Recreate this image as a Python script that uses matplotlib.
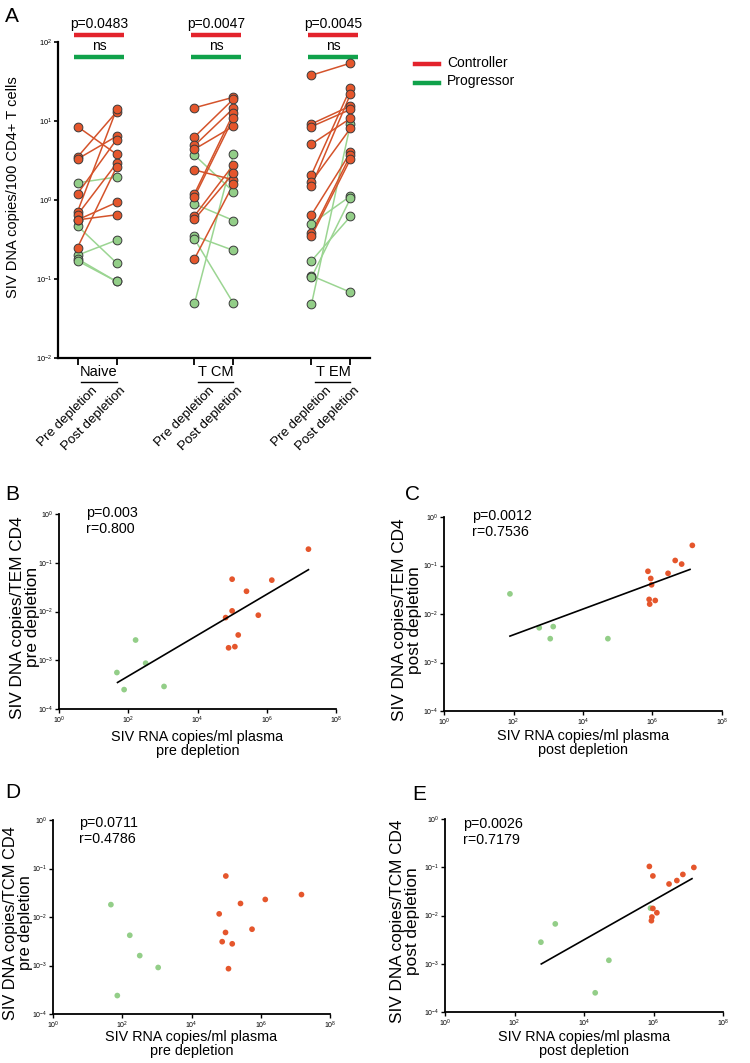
"""
SIV DNA in CD4 T cell subsets, pre/post depletion (panel A) and
correlation with plasma viral RNA (panels B-E)
"""

import numpy as np
import matplotlib

matplotlib.use("Agg")
import matplotlib.pyplot as plt
from matplotlib import ticker

plt.rcParams["font.family"] = ["Liberation Sans", "DejaVu Sans"]

# ---------------- panel A data ----------------
subsets = ["Naive", "T CM", "T EM"]
time_labels = ["Pre depletion", "Post depletion"]
p_controller = ["p=0.0483", "p=0.0047", "p=0.0045"]
p_progressor = ["ns", "ns", "ns"]

# controller (pre, post) pairs per subset
naive_ctrl_pre = [8.5, 3.5, 3.3, 1.2, 0.71, 0.65, 0.56, 0.56, 0.25]
naive_ctrl_post = [3.8, 13, 6.4, 5.8, 14, 2.9, 0.93, 0.65, 2.6]
naive_prog_pre = [1.65, 0.47, 0.20, 0.18, 0.17]
naive_prog_post = [1.95, 0.16, 0.31, 0.093, 0.093]

tcm_ctrl_pre = [14.7, 6.3, 4.9, 4.4, 2.4, 1.2, 1.1, 0.63, 0.57, 0.18]
tcm_ctrl_post = [20, 19, 14.5, 8.6, 1.8, 12.5, 11, 2.8, 2.2, 1.6]
tcm_prog_pre = [3.7, 0.89, 0.35, 0.32, 0.049]
tcm_prog_post = [1.27, 0.55, 0.23, 0.049, 3.8]

tem_ctrl_pre = [38, 9.2, 8.5, 5.1, 2.1, 1.7, 1.5, 0.65, 0.38, 0.35]
tem_ctrl_post = [54, 15.5, 14, 10.8, 26, 8.1, 22, 4.0, 3.7, 3.3]
tem_prog_pre = [0.50, 0.17, 0.11, 0.105, 0.048]
tem_prog_post = [1.12, 0.62, 0.068, 1.05, 9.2]

# ---------------- panels B-E data ----------------
# B: TEM pre depletion
b_ctrl_rna = [1.6e7, 1.0e5, 1.4e6, 2.6e5, 1.0e5, 6.5e4, 5.7e5, 1.5e5, 1.2e5, 7.9e4]
b_ctrl_dna = [0.19, 0.046, 0.044, 0.026, 0.0103, 0.0075, 0.0084, 0.0033, 0.0019, 0.0018]
b_prog_rna = [163, 318, 47, 76, 1080]
b_prog_dna = [0.0026, 0.00087, 0.00056, 0.00025, 0.00029]
b_fit_x = [49, 1.6e7]
b_fit_y = [3.5e-4, 0.072]

# C: TEM post depletion
c_ctrl_rna = [1.4e7, 4.5e6, 6.9e6, 7.4e5, 2.8e6, 8.9e5, 9.4e5, 8.0e5, 1.2e6, 8.3e5]
c_ctrl_dna = [0.26, 0.127, 0.107, 0.076, 0.069, 0.054, 0.040, 0.020, 0.019, 0.016]
c_prog_rna = [79, 550, 1390, 1140, 5.2e4]
c_prog_dna = [0.026, 0.0052, 0.0055, 0.0031, 0.0031]
c_fit_x = [79, 1.2e7]
c_fit_y = [0.0035, 0.083]

# D: TCM pre depletion (no fit line)
d_ctrl_rna = [9.8e4, 1.5e7, 1.35e6, 2.6e5, 6.3e4, 5.6e5, 9.6e4, 7.7e4, 1.5e5, 1.17e5]
d_ctrl_dna = [0.070, 0.029, 0.023, 0.019, 0.0116, 0.0056, 0.0048, 0.0031, 0.0028, 0.00086]
d_prog_rna = [47, 165, 320, 1090, 72]
d_prog_dna = [0.018, 0.0042, 0.0016, 0.00091, 0.00024]

# E: TCM post depletion
e_ctrl_rna = [7.6e5, 9.6e5, 1.45e7, 7.0e6, 4.7e6, 2.8e6, 9.6e5, 1.25e6, 9.0e5, 8.7e5]
e_ctrl_dna = [0.104, 0.066, 0.099, 0.071, 0.053, 0.045, 0.014, 0.0114, 0.0093, 0.0078]
e_prog_rna = [8.2e5, 1490, 575, 5.2e4, 2.1e4]
e_prog_dna = [0.0142, 0.0067, 0.0028, 0.00118, 0.00025]
e_fit_x = [590, 1.28e7]
e_fit_y = [0.00099, 0.058]

# ---------------- colours ----------------
RED_FACE = "#E5562C"
GREEN_FACE = "#93CE88"
RED_LINE = "#D4532B"
GREEN_LINE = "#9BD592"
BAR_RED = "#E3232C"
BAR_GREEN = "#10A24B"

fig = plt.figure(figsize=(7.5, 10.63), dpi=100)
W, H = 750, 1063


def px_axes(left, top, right, bottom):
    return fig.add_axes([left / W, 1 - bottom / H, (right - left) / W, (bottom - top) / H])


def log_ticks(ax, axis, fs):
    fmt = ticker.LogFormatterSciNotation()
    if axis in ("y", "both"):
        ax.yaxis.set_major_locator(ticker.LogLocator(base=10, numticks=20))
        ax.yaxis.set_minor_locator(ticker.NullLocator())
        ax.yaxis.set_major_formatter(fmt)
    ax.tick_params(axis=axis, labelsize=fs, direction="out", length=3, width=1.0, pad=1)


# ================= panel A =================
axA = px_axes(58, 42, 370, 358)
axA.set_yscale("log")
axA.set_ylim(1e-2, 1e2)
axA.set_xlim(-0.5, 7.5)
for s in ["top", "right"]:
    axA.spines[s].set_visible(False)
for s in ["left", "bottom"]:
    axA.spines[s].set_linewidth(1.6)

group_pos = [0, 3, 6]
ctrl_sets = [(naive_ctrl_pre, naive_ctrl_post), (tcm_ctrl_pre, tcm_ctrl_post), (tem_ctrl_pre, tem_ctrl_post)]
prog_sets = [(naive_prog_pre, naive_prog_post), (tcm_prog_pre, tcm_prog_post), (tem_prog_pre, tem_prog_post)]

for gx, (cp, cq), (pp, pq) in zip(group_pos, ctrl_sets, prog_sets):
    for a, b in zip(pp, pq):
        axA.plot([gx, gx + 1], [a, b], color=GREEN_LINE, lw=1.1, zorder=2)
    for a, b in zip(cp, cq):
        axA.plot([gx, gx + 1], [a, b], color=RED_LINE, lw=1.1, zorder=3)
    for a, b in zip(pp, pq):
        axA.plot([gx, gx + 1], [a, b], ls="none", marker="o", ms=6.3,
                 mfc=GREEN_FACE, mec="#3a3a3a", mew=0.7, zorder=4)
    for a, b in zip(cp, cq):
        axA.plot([gx, gx + 1], [a, b], ls="none", marker="o", ms=6.3,
                 mfc=RED_FACE, mec="#3a3a3a", mew=0.7, zorder=5)

# significance bars
for gx, pc, pg in zip(group_pos, p_controller, p_progressor):
    axA.plot([gx - 0.08, gx + 1.18], [123, 123], color=BAR_RED, lw=3.2,
             solid_capstyle="butt", clip_on=False)
    axA.plot([gx - 0.08, gx + 1.18], [65, 65], color=BAR_GREEN, lw=3.2,
             solid_capstyle="butt", clip_on=False)
    axA.text(gx + 0.55, 170, pc, ha="center", va="center", fontsize=10, clip_on=False)
    axA.text(gx + 0.55, 90, pg, ha="center", va="center", fontsize=10, clip_on=False)

xt = []
for gx in group_pos:
    xt += [gx, gx + 1]
axA.set_xticks(xt)
axA.set_xticklabels([])
axA.tick_params(axis="x", direction="out", length=5, width=1.3)
log_ticks(axA, "y", 5.5)
axA.tick_params(axis="y", length=3, width=1.2)

trans = axA.get_xaxis_transform()
for gx, name in zip(group_pos, subsets):
    axA.text(gx + 0.55, -0.043, name, transform=trans, ha="center", va="center", fontsize=10.5)
    axA.plot([gx + 0.08, gx + 1.0], [-0.076, -0.076], transform=trans, color="black",
             lw=1.0, clip_on=False)
    axA.text(gx + 0.36, -0.083, time_labels[0], transform=trans, rotation=45,
             ha="right", va="top", rotation_mode="anchor", fontsize=9.6)
    axA.text(gx + 1.08, -0.083, time_labels[1], transform=trans, rotation=45,
             ha="right", va="top", rotation_mode="anchor", fontsize=9.6)

axA.set_ylabel("SIV DNA copies/100 CD4+ T cells", fontsize=10.5)
axA.yaxis.set_label_coords(-0.122, 0.54)
fig.text(5 / W, 1 - 16 / H, "A", fontsize=15, va="center", ha="left")

# legend
fig.add_artist(plt.Line2D([415 / W, 439 / W], [1 - 64 / H, 1 - 64 / H], color=BAR_RED, lw=3.2))
fig.add_artist(plt.Line2D([415 / W, 439 / W], [1 - 83 / H, 1 - 83 / H], color=BAR_GREEN, lw=3.2))
fig.text(447 / W, 1 - 63 / H, "Controller", fontsize=10, va="center")
fig.text(447 / W, 1 - 81 / H, "Progressor", fontsize=10, va="center")


# ================= scatter panels =================
def scatter_panel(box, letter, letter_xy, ctrl, prog, fit, ptxt, ylab, xlab, txt_xy,
                  ylab_x, xlab_y, ylab_fs=12.4):
    ax = px_axes(*box)
    ax.set_xscale("log")
    ax.set_yscale("log")
    ax.set_xlim(1, 1e8)
    ax.set_ylim(1e-4, 1)
    for s in ["top", "right"]:
        ax.spines[s].set_visible(False)
    for s in ["left", "bottom"]:
        ax.spines[s].set_linewidth(1.3)
    ax.scatter(prog[0], prog[1], s=17, color=GREEN_FACE, edgecolors="none", zorder=3)
    ax.scatter(ctrl[0], ctrl[1], s=17, color=RED_FACE, edgecolors="none", zorder=3)
    if fit is not None:
        ax.plot(fit[0], fit[1], color="black", lw=1.2, zorder=4)
    ax.xaxis.set_major_locator(ticker.FixedLocator([1, 1e2, 1e4, 1e6, 1e8]))
    ax.xaxis.set_minor_locator(ticker.NullLocator())
    ax.xaxis.set_major_formatter(ticker.LogFormatterSciNotation())
    log_ticks(ax, "both", 5)
    ax.text(txt_xy[0], txt_xy[1], ptxt, transform=ax.transAxes, ha="left", va="top",
            fontsize=10.3, linespacing=1.2)
    ax.set_ylabel(ylab, fontsize=ylab_fs, linespacing=1.0)
    ax.yaxis.set_label_coords(ylab_x, 0.47)
    ax.set_xlabel(xlab, fontsize=10.4, linespacing=1.0)
    ax.xaxis.set_label_coords(0.5, xlab_y)
    fig.text(letter_xy[0] / W, 1 - letter_xy[1] / H, letter, fontsize=15, va="center", ha="left")
    return ax


scatter_panels = [
    ((59, 514, 336, 709), "B", (5, 495), (b_ctrl_rna, b_ctrl_dna), (b_prog_rna, b_prog_dna),
     (b_fit_x, b_fit_y), "p=0.003\nr=0.800",
     "SIV DNA copies/TEM CD4\npre depletion", "SIV RNA copies/ml plasma\npre depletion",
     (0.097, 1.04), -0.069, -0.108),
    ((444, 517, 722, 711), "C", (405, 495), (c_ctrl_rna, c_ctrl_dna), (c_prog_rna, c_prog_dna),
     (c_fit_x, c_fit_y), "p=0.0012\nr=0.7536",
     "SIV DNA copies/TEM CD4\npost depletion", "SIV RNA copies/ml plasma\npost depletion",
     (0.10, 1.04), -0.079, -0.093),
    ((53, 820, 330, 1014), "D", (5, 793), (d_ctrl_rna, d_ctrl_dna), (d_prog_rna, d_prog_dna),
     None, "p=0.0711\nr=0.4786",
     "SIV DNA copies/TCM CD4\npre depletion", "SIV RNA copies/ml plasma\npre depletion",
     (0.094, 1.02), -0.074, -0.082, 11.8),
    ((445, 819, 723, 1012), "E", (412, 795), (e_ctrl_rna, e_ctrl_dna), (e_prog_rna, e_prog_dna),
     (e_fit_x, e_fit_y), "p=0.0026\nr=0.7179",
     "SIV DNA copies/TCM CD4\npost depletion", "SIV RNA copies/ml plasma\npost depletion",
     (0.065, 1.01), -0.09, -0.093),
]

for args in scatter_panels:
    scatter_panel(*args)

plt.savefig("out.png", dpi=100)
